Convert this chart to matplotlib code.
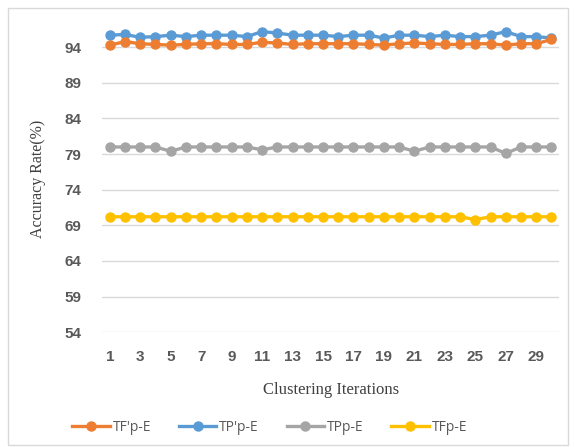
import matplotlib.pyplot as plt
from matplotlib.patches import Rectangle

iterations = list(range(1, 31))

tf_prime_pe = [94.3, 94.8, 94.5, 94.4, 94.3, 94.4, 94.5, 94.5, 94.4, 94.4,
               94.7, 94.6, 94.4, 94.5, 94.5, 94.5, 94.5, 94.4, 94.3, 94.5,
               94.6, 94.5, 94.4, 94.4, 94.5, 94.5, 94.3, 94.5, 94.5, 95.1]
tp_prime_pe = [95.7, 95.8, 95.4, 95.5, 95.7, 95.5, 95.7, 95.7, 95.7, 95.5,
               96.2, 96.0, 95.7, 95.7, 95.7, 95.5, 95.7, 95.7, 95.3, 95.7,
               95.7, 95.5, 95.7, 95.5, 95.5, 95.7, 96.2, 95.5, 95.5, 95.3]
tpp_e = [80.0, 80.0, 80.0, 80.0, 79.4, 80.0, 80.0, 80.0, 80.0, 80.0,
         79.6, 80.0, 80.0, 80.0, 80.0, 80.0, 80.0, 80.0, 80.0, 80.0,
         79.4, 80.0, 80.0, 80.0, 80.0, 80.0, 79.1, 80.0, 80.0, 80.0]
tfp_e = [70.2, 70.2, 70.2, 70.2, 70.2, 70.2, 70.2, 70.2, 70.2, 70.2,
         70.2, 70.2, 70.2, 70.2, 70.2, 70.2, 70.2, 70.2, 70.2, 70.2,
         70.2, 70.2, 70.2, 70.2, 69.8, 70.2, 70.2, 70.2, 70.2, 70.2]

series = [
    ("TF'p-E", tf_prime_pe, "#ED7D31"),
    ("TP'p-E", tp_prime_pe, "#5B9BD5"),
    ("TPp-E", tpp_e, "#A5A5A5"),
    ("TFp-E", tfp_e, "#FFC000"),
]

y_ticks = [54, 59, 64, 69, 74, 79, 84, 89, 94]
x_labels = [str(i) if i % 2 == 1 else "" for i in iterations]

text_gray = "#595959"
tick_font = {"family": "Liberation Sans", "weight": "bold", "size": 11,
             "color": text_gray}

fig = plt.figure(figsize=(5.74, 4.47), dpi=100)
ax = fig.add_axes([0.178, 0.257, 0.796, 0.685])

# draw blue before orange so the orange line sits on top where they touch
for name, vals, color in [series[1], series[0], series[2], series[3]]:
    ax.plot(iterations, vals, color=color, lw=2.4, marker="o", ms=6.5,
            label=name, zorder=3)

ax.set_xlim(0.5, 30.5)
ax.set_ylim(54, 97)
ax.set_yticks(y_ticks)
ax.set_yticklabels([str(v) for v in y_ticks], fontdict=tick_font)
ax.set_xticks(iterations)
ax.set_xticklabels(x_labels, fontdict=tick_font)
ax.grid(axis="y", color="#D9D9D9", lw=1)
ax.set_axisbelow(True)
for s in ax.spines.values():
    s.set_visible(False)
ax.tick_params(length=0)
ax.tick_params(axis="x", pad=13)
ax.tick_params(axis="y", pad=15)

ax.set_xlabel("Clustering Iterations", family="Liberation Serif",
              fontsize=12, color="#404040", labelpad=13)
ax.set_ylabel("Accuracy Rate(%)", family="Liberation Serif",
              fontsize=11.5, color="#404040", labelpad=13)

handles, labels = ax.get_legend_handles_labels()
order = [labels.index(s[0]) for s in series]
fig.legend([handles[i] for i in order], [labels[i] for i in order],
           loc="center", bbox_to_anchor=(0.47, 0.043), ncol=4, frameon=False,
           handlelength=2.7, columnspacing=2.0, handletextpad=0.2,
           prop={"family": "Open Sans", "size": 10}, labelcolor=text_gray)

# thin frame around the whole chart
fig.patches.append(Rectangle((0.014, 0.005), 0.975, 0.978,
                             transform=fig.transFigure, fill=False,
                             edgecolor="#D9D9D9", lw=1))

fig.savefig("out.png", dpi=100)
